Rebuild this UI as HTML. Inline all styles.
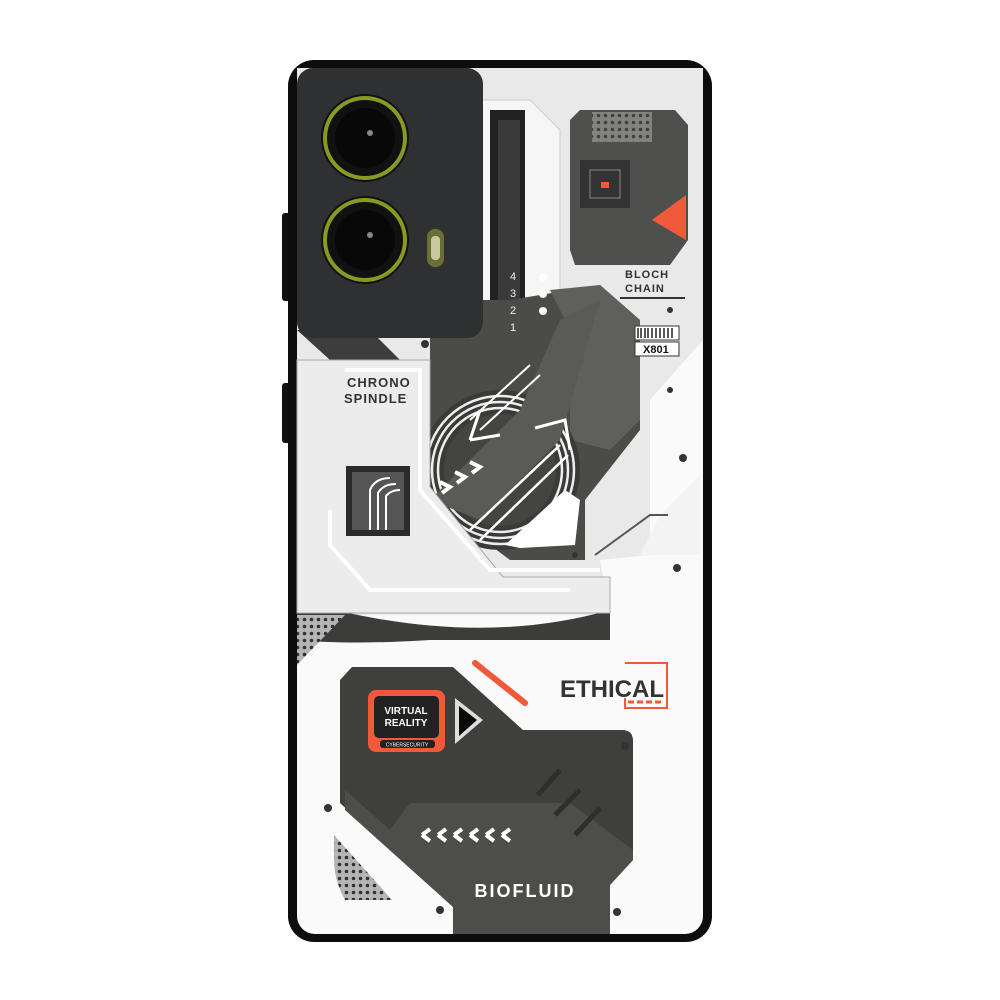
<!DOCTYPE html>
<html><head><meta charset="utf-8"><style>
html,body{margin:0;padding:0;background:#fff;width:1000px;height:1000px;overflow:hidden}
svg{display:block}
text{font-family:"Liberation Sans",sans-serif}
</style></head><body>
<svg width="1000" height="1000" viewBox="0 0 1000 1000" xmlns="http://www.w3.org/2000/svg">
<defs>
<pattern id="dots" width="7" height="7" patternUnits="userSpaceOnUse"><rect width="7" height="7" fill="#b5b5b5"/><circle cx="3.5" cy="3.5" r="1.8" fill="#333"/></pattern>
</defs>
<rect width="1000" height="1000" fill="#fff"/>
<rect x="282" y="213" width="10" height="88" rx="3" fill="#111"/>
<rect x="282" y="383" width="10" height="60" rx="3" fill="#111"/>
<rect x="288" y="60" width="424" height="882" rx="26" fill="#0d0d0d"/>
<rect x="297" y="68" width="406" height="866" rx="18" fill="#fafafa"/>
<path d="M297 68 H703 V340 L650 400 V555 L600 560 L610 615 H297 Z" fill="#e9e9e9"/>
<path d="M660 515 L700 475 V555 H640 Z" fill="#f3f3f3"/>
<path d="M595 555 L650 515 H668" stroke="#555" stroke-width="2" fill="none"/>
<path d="M480 100 H530 L560 130 V300 L530 330 H480 Z" fill="#f6f6f6" stroke="#ccc"/>
<path d="M490 110 H525 V320 H490 Z" fill="#222"/>
<path d="M498 120 H520 V310 H498 Z" fill="#3a3a3a"/>
<path d="M297 330 L330 360 H400 L370 330 Z" fill="#3d3e3b"/>
<path d="M430 300 L510 300 L600 285 L640 320 L640 430 L585 500 L585 560 L510 560 L430 500 Z" fill="#4b4c48"/>
<path d="M550 290 L600 285 L640 320 L640 420 L610 450 L570 440 V330 Z" fill="#5f605b"/>
<circle cx="500" cy="470" r="80" fill="#3a3b38"/>
<circle cx="500" cy="470" r="74" fill="none" stroke="#eee" stroke-width="2.5"/>
<circle cx="500" cy="470" r="68" fill="none" stroke="#eee" stroke-width="2.5"/>
<circle cx="500" cy="470" r="62" fill="none" stroke="#eee" stroke-width="2.5"/>
<circle cx="500" cy="470" r="56" fill="#444541"/>
<path d="M430 500 L520 410 L560 320 L600 300 L560 440 L480 520 Z" fill="#5a5b57"/>
<path d="M470 420 L530 365 M480 430 L540 375" stroke="#fff" stroke-width="2"/>
<path d="M470 440 L480 410 M470 440 L500 435" stroke="#fff" stroke-width="3" fill="none"/>
<path d="M470 530 L560 445 M480 540 L568 455" stroke="#fff" stroke-width="2.5"/>
<path d="M535 428 L565 420 L570 450" stroke="#fff" stroke-width="3" fill="none"/>
<path d="M505 545 L565 490 L580 500 L575 545 L520 548 Z" fill="#fff"/>
<path d="M440 482 l10 5 l-8 6 M455 472 l10 5 l-8 6 M470 462 l10 5 l-8 6" stroke="#fff" stroke-width="4" fill="none"/>
<path d="M297 600 Q470 650 610 610 V640 H430 Q350 645 297 640 Z" fill="#3c3d3a"/>
<text x="510" y="280" font-size="11" fill="#eee">4</text>
<text x="510" y="297" font-size="11" fill="#eee">3</text>
<text x="510" y="314" font-size="11" fill="#eee">2</text>
<text x="510" y="331" font-size="11" fill="#eee">1</text>
<circle cx="543" cy="277" r="4" fill="#fff"/><circle cx="543" cy="294" r="4" fill="#fff"/><circle cx="543" cy="311" r="4" fill="#fff"/>
<path d="M297 360 H430 V487 L503 577 H610 V613 H297 Z" fill="#ececec" stroke="#aaa"/>
<path d="M345 370 H420 V490 L490 570 H600 M330 510 V545 L370 590 H570" stroke="#fff" stroke-width="4" fill="none"/>
<rect x="346" y="466" width="64" height="70" fill="#2b2b2b"/>
<rect x="352" y="472" width="52" height="58" fill="#555"/>
<path d="M370 530 V490 Q375 478 390 478 M378 530 V493 Q383 484 396 484 M386 530 V496 Q391 490 400 490" stroke="#fff" stroke-width="2" fill="none"/>
<text x="347" y="387" font-size="13" fill="#333" font-weight="bold" letter-spacing="1">CHRONO</text>
<text x="344" y="403" font-size="13" fill="#333" font-weight="bold" letter-spacing="1">SPINDLE</text>
<rect x="297" y="68" width="186" height="270" rx="16" fill="#2f3032"/>
<g>
<circle cx="365" cy="138" r="44" fill="#111"/><circle cx="365" cy="138" r="40" fill="none" stroke="#8a9a20" stroke-width="4"/><circle cx="365" cy="138" r="30" fill="#080808"/><circle cx="370" cy="133" r="3" fill="#888"/>
<circle cx="365" cy="240" r="44" fill="#111"/><circle cx="365" cy="240" r="40" fill="none" stroke="#8a9a20" stroke-width="4"/><circle cx="365" cy="240" r="30" fill="#080808"/><circle cx="370" cy="235" r="3" fill="#888"/>
</g>
<rect x="427" y="229" width="17" height="38" rx="8" fill="#6b6f35"/><rect x="431" y="236" width="9" height="24" rx="4" fill="#c9c9a0"/>
<path d="M580 110 H675 L688 125 V240 L670 265 H575 L570 250 V120 Z" fill="#4f504d"/>
<rect x="592" y="112" width="60" height="30" fill="url(#dots)" opacity="0.5"/>
<rect x="580" y="160" width="50" height="48" fill="#333"/>
<rect x="590" y="170" width="30" height="28" fill="none" stroke="#888"/>
<rect x="601" y="182" width="8" height="6" fill="#ff5533"/>
<path d="M652 220 L686 195 V240 Z" fill="#f05a3a"/>
<text x="625" y="278" font-size="11" font-weight="bold" letter-spacing="1" fill="#333">BLOCH</text>
<text x="625" y="292" font-size="11" font-weight="bold" letter-spacing="1" fill="#333">CHAIN</text>
<line x1="620" y1="298" x2="685" y2="298" stroke="#333" stroke-width="2"/>
<rect x="635" y="326" width="44" height="14" fill="#fff" stroke="#333"/>
<path d="M638 328 v10 M641 328 v10 M645 328 v10 M648 328 v10 M652 328 v10 M656 328 v10 M660 328 v10 M664 328 v10 M668 328 v10 M672 328 v10" stroke="#222" stroke-width="1.5"/>
<rect x="635" y="342" width="44" height="14" fill="#fff" stroke="#333"/>
<text x="643" y="353" font-size="11" font-weight="bold" fill="#111">X801</text>
<path d="M297 615 H345 L297 665 Z" fill="url(#dots)"/>
<path d="M334 835 L392 900 H345 Q334 880 334 860 Z" fill="url(#dots)"/>
<line x1="475" y1="663" x2="525" y2="703" stroke="#f05a3a" stroke-width="6" stroke-linecap="round"/>
<text x="560" y="697" font-size="24" font-weight="bold" fill="#333">ETHICAL</text>
<path d="M625 663 H667 V708 H625 V698" fill="none" stroke="#f05a3a" stroke-width="2"/>
<path d="M628 702 h6 M637 702 h6 M646 702 h6 M655 702 h6" stroke="#f05a3a" stroke-width="3"/>
<path d="M352 667 H453 L523 730 H622 Q633 730 633 741 V860 L610 885 V934 H453 V907 L340 803 V680 Z" fill="#3f403c"/>
<path d="M345 790 L390 830 L410 803 H570 L633 850 V860 L610 885 V934 H453 V907 L345 810 Z" fill="#4d4e4a"/>
<path d="M538 795 L560 770 M555 815 L580 790 M575 835 L600 808" stroke="#2e2f2c" stroke-width="5"/>
<rect x="368" y="690" width="77" height="62" rx="8" fill="#f05a3a"/>
<rect x="374" y="696" width="65" height="42" rx="5" fill="#222"/>
<rect x="380" y="740" width="55" height="8" rx="3" fill="#222"/>
<text x="406" y="714" font-size="10" font-weight="bold" fill="#fff" text-anchor="middle">VIRTUAL</text>
<text x="406" y="726" font-size="10" font-weight="bold" fill="#fff" text-anchor="middle">REALITY</text>
<text x="407" y="746.5" font-size="5" fill="#fff" text-anchor="middle">CYBERSECURITY</text>
<path d="M455 698 L483 720 L455 744 Z" fill="#ddd"/><path d="M459 706 L477 720 L459 736 Z" fill="#0a0a0a"/>
<path d="M418 835 l-8 -6 M418 835 l-8 6 M434 835 l-8 -6 M434 835 l-8 6 M450 835 l-8 -6 M450 835 l-8 6 M466 835 l-8 -6 M466 835 l-8 6 M482 835 l-8 -6 M482 835 l-8 6 M498 835 l-8 -6 M498 835 l-8 6" transform="rotate(180 460 835)" stroke="#fff" stroke-width="4" fill="none"/>
<text x="525" y="897" font-size="18" font-weight="bold" fill="#fff" text-anchor="middle" letter-spacing="2">BIOFLUID</text>
<g fill="#333"><circle cx="683" cy="458" r="4"/><circle cx="677" cy="568" r="4"/><circle cx="625" cy="746" r="4"/><circle cx="328" cy="808" r="4"/><circle cx="440" cy="910" r="4"/><circle cx="617" cy="912" r="4"/><circle cx="575" cy="555" r="3"/><circle cx="425" cy="344" r="4"/><circle cx="670" cy="310" r="3"/><circle cx="670" cy="390" r="3"/></g>
</svg>
</body></html>
